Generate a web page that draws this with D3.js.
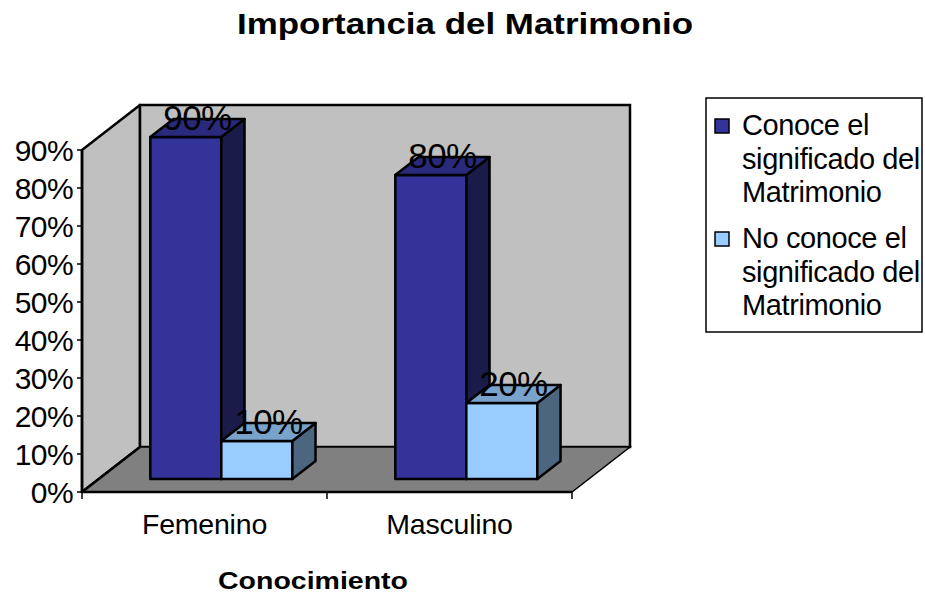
<!DOCTYPE html>
<html>
<head>
<meta charset="utf-8">
<script src="https://cdn.jsdelivr.net/npm/d3@7"></script>
<style>
  body { margin: 0; background: #fff; }
  text { font-family: "Liberation Sans", Arial, sans-serif; fill: #000; }
</style>
</head>
<body>
<svg id="chart" width="925" height="597"></svg>
<script>
var categories = ['Femenino', 'Masculino']
  , series = ['Conoce el significado del Matrimonio', 'No conoce el significado del Matrimonio']
  , conoce = [0.9, 0.8]
  , noConoce = [0.1, 0.2]
  , yTicks = [0, 0.1, 0.2, 0.3, 0.4, 0.5, 0.6, 0.7, 0.8, 0.9]
  , legendLines = [['Conoce el', 'significado del', 'Matrimonio'], ['No conoce el', 'significado del', 'Matrimonio']]

var colors = [
  { front: '#333399', side: '#1b1b4a', top: '#2a2a7c' }
  , { front: '#99ccff', side: '#4c6680', top: '#7aa3cc' }
]

var svg = d3.select('#chart')
  , depthX = 58
  , depthY = -45
  , barD0 = 0.29
  , barD1 = 0.69

var y = d3.scaleLinear().domain([0, 0.9]).range([492, 150])
var x = d3.scaleBand().domain(categories).range([82, 572])
var xs = d3.scaleBand().domain(d3.range(series.length)).range([0, x.bandwidth()]).paddingOuter(0.725)

// projects a point given front-plane x, value and depth fraction
function P(px, v, d) { return [px + depthX * d, y(v) + depthY * d] }
function pts(a) { return a.map(function(p) { return p.join(',') }).join(' ') }

var x0 = x.range()[0], x1 = x.range()[1], vTop = 0.9

// left wall
svg.append('polygon')
  .attr('points', pts([P(x0, 0, 0), P(x0, vTop, 0), P(x0, vTop, 1), P(x0, 0, 1)]))
  .attr('fill', '#c0c0c0').attr('stroke', '#000').attr('stroke-width', 2.5).attr('stroke-linejoin', 'round')
// back wall
svg.append('polygon')
  .attr('points', pts([P(x0, 0, 1), P(x0, vTop, 1), P(x1, vTop, 1), P(x1, 0, 1)]))
  .attr('fill', '#c0c0c0').attr('stroke', '#000').attr('stroke-width', 2.5)
// floor
svg.append('polygon')
  .attr('points', pts([P(x0, 0, 0), P(x1, 0, 0), P(x1, 0, 1), P(x0, 0, 1)]))
  .attr('fill', '#808080').attr('stroke', '#000').attr('stroke-width', 1.5)
svg.append('line')
  .attr('x1', P(x0, 0, 0)[0]).attr('y1', P(x0, 0, 0)[1])
  .attr('x2', P(x0, 0, 1)[0]).attr('y2', P(x0, 0, 1)[1])
  .attr('stroke', '#000').attr('stroke-width', 2.5)

// bars
var bars = []
categories.forEach(function(c, ci) {
  [conoce[ci], noConoce[ci]].forEach(function(v, si) {
    bars.push({ cat: c, s: si, v: v, xl: x(c) + xs(si), xr: x(c) + xs(si) + xs.bandwidth() })
  })
})

var g = svg.selectAll('g.bar').data(bars).enter().append('g').attr('class', 'bar')
g.append('polygon')
  .attr('points', function(b) { return pts([P(b.xl, 0, barD0), P(b.xr, 0, barD0), P(b.xr, b.v, barD0), P(b.xl, b.v, barD0)]) })
  .attr('fill', function(b) { return colors[b.s].front })
g.append('polygon')
  .attr('points', function(b) { return pts([P(b.xr, 0, barD0), P(b.xr, 0, barD1), P(b.xr, b.v, barD1), P(b.xr, b.v, barD0)]) })
  .attr('fill', function(b) { return colors[b.s].side })
g.append('polygon')
  .attr('points', function(b) { return pts([P(b.xl, b.v, barD0), P(b.xr, b.v, barD0), P(b.xr, b.v, barD1), P(b.xl, b.v, barD1)]) })
  .attr('fill', function(b) { return colors[b.s].top })
g.selectAll('polygon').attr('stroke', '#000').attr('stroke-width', 2.5).attr('stroke-linejoin', 'round')

// axis lines and ticks
svg.append('line')
  .attr('x1', x0).attr('x2', x0).attr('y1', y(0)).attr('y2', y(vTop))
  .attr('stroke', '#000').attr('stroke-width', 2.5)
svg.append('line')
  .attr('x1', x0).attr('x2', x1).attr('y1', y(0)).attr('y2', y(0))
  .attr('stroke', '#000').attr('stroke-width', 2.5)

svg.selectAll('line.ytick').data(yTicks).enter().append('line')
  .attr('x1', x0 - 5).attr('x2', x0).attr('y1', y).attr('y2', y)
  .attr('stroke', '#000').attr('stroke-width', 1.5)
svg.selectAll('text.ytick').data(yTicks).enter().append('text')
  .attr('x', x0 - 9).attr('y', function(d) { return y(d) + 11 })
  .attr('text-anchor', 'end').style('font-size', '30px').style('letter-spacing', '-0.6px')
  .text(d3.format('.0%'))

var xTicks = [x0].concat(categories.map(function(c) { return x(c) + x.bandwidth() }))
svg.selectAll('line.xtick').data(xTicks).enter().append('line')
  .attr('x1', function(d) { return d }).attr('x2', function(d) { return d })
  .attr('y1', y(0)).attr('y2', y(0) + 7)
  .attr('stroke', '#000').attr('stroke-width', 1.5)
svg.selectAll('text.xcat').data(categories).enter().append('text')
  .attr('x', function(c) { return x(c) + x.bandwidth() / 2 }).attr('y', 534)
  .attr('text-anchor', 'middle').style('font-size', '28.5px').style('letter-spacing', '-0.2px')
  .text(function(c) { return c })

// data labels
svg.selectAll('text.lbl').data(bars).enter().append('text')
  .attr('x', function(b) { return P((b.xl + b.xr) / 2, b.v, (barD0 + barD1) / 2)[0] })
  .attr('y', function(b) { return P((b.xl + b.xr) / 2, b.v, (barD0 + barD1) / 2)[1] + 2 })
  .attr('text-anchor', 'middle').style('font-size', '35px').style('letter-spacing', '-0.6px')
  .text(function(b) { return d3.format('.0%')(b.v) })

// titles (bold text in the source is drawn wide)
svg.append('text').attr('x', 465).attr('y', 34).attr('text-anchor', 'middle')
  .attr('textLength', 456).attr('lengthAdjust', 'spacingAndGlyphs')
  .style('font-size', '30px').style('font-weight', 'bold')
  .text('Importancia del Matrimonio')
svg.append('text').attr('x', 313).attr('y', 589).attr('text-anchor', 'middle')
  .attr('textLength', 190).attr('lengthAdjust', 'spacingAndGlyphs')
  .style('font-size', '24px').style('font-weight', 'bold')
  .text('Conocimiento')

// legend
var legend = svg.append('g')
legend.append('rect').attr('x', 706).attr('y', 98).attr('width', 216).attr('height', 234)
  .attr('fill', '#fff').attr('stroke', '#000').attr('stroke-width', 1.5)
legendLines.forEach(function(lines, i) {
  var top = 135 + i * 113
  legend.append('rect').attr('x', 715).attr('y', top - 16).attr('width', 14).attr('height', 14)
    .attr('fill', colors[i].front).attr('stroke', '#000').attr('stroke-width', 1.5)
  var t = legend.append('text').attr('x', 742).attr('y', top)
    .style('font-size', '29px').style('letter-spacing', '-0.4px')
  lines.forEach(function(l, li) {
    t.append('tspan').attr('x', 742).attr('dy', li ? 33.5 : 0).text(l)
  })
})
</script>
</body>
</html>
